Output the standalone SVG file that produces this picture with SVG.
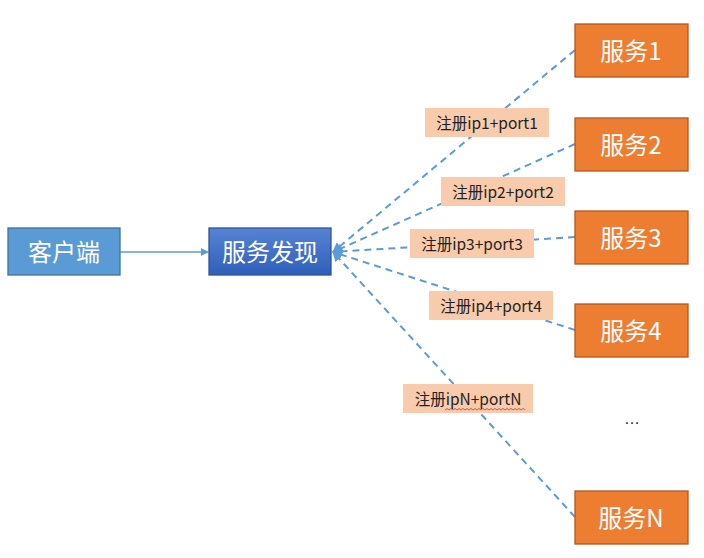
<svg xmlns="http://www.w3.org/2000/svg" width="704" height="558" viewBox="0 0 704 558">
<defs>
<linearGradient id="g1" x1="0" y1="0" x2="0" y2="1">
<stop offset="0" stop-color="#5783D3"/>
<stop offset="1" stop-color="#2F5FBA"/>
</linearGradient>
<marker id="arr" viewBox="0 0 10 10" refX="9" refY="5" markerWidth="5" markerHeight="5" orient="auto" markerUnits="strokeWidth">
<path d="M0,0 L10,5 L0,10 z" fill="#5B9BD5"/>
</marker>
<marker id="arrd" viewBox="0 0 10 10" refX="9" refY="5" markerWidth="5" markerHeight="5" orient="auto" markerUnits="strokeWidth">
<path d="M0,0 L10,5 L0,10 z" fill="#5B9BD5"/>
</marker>
</defs>
<style>
.t{font-family:"Noto Sans CJK SC","Liberation Sans",sans-serif;fill:#fff;font-size:24px;text-anchor:middle;dominant-baseline:central}
.l{font-family:"Noto Sans CJK SC","Liberation Sans",sans-serif;fill:#222;font-size:15.5px;text-anchor:middle;dominant-baseline:central}
.svc{fill:#ED7D31;stroke:#AE5A21;stroke-width:1.3}
.lb{fill:#F8CBAD}
.d{stroke:#5B9BD5;stroke-width:2;stroke-dasharray:7,5;fill:none;marker-end:url(#arrd)}
</style>
<rect width="704" height="558" fill="#fff"/>
<g id="connectors">
<line x1="120" y1="252" x2="208" y2="252" stroke="#5B9BD5" stroke-width="1.6" marker-end="url(#arr)"/>
<line class="d" x1="575" y1="50" x2="333" y2="252"/>
<line class="d" x1="575" y1="144" x2="333" y2="252"/>
<line class="d" x1="575" y1="237" x2="333" y2="252"/>
<line class="d" x1="575" y1="330" x2="333" y2="252"/>
<line class="d" x1="575" y1="517" x2="333" y2="252"/>
</g>
<g id="client"><rect x="8" y="228" width="112" height="47" fill="#5B9BD5" stroke="#41719C" stroke-width="1.3"/><text class="t" x="64" y="250">客户端</text></g>
<g id="discovery"><rect x="209" y="228" width="122" height="47" fill="url(#g1)" stroke="#2F5597" stroke-width="1.3"/><text class="t" x="270" y="250">服务发现</text></g>
<g id="s1"><rect class="svc" x="575" y="24" width="113" height="53"/><text class="t" x="631" y="49">服务1</text></g>
<g id="s2"><rect class="svc" x="575" y="118" width="113" height="53"/><text class="t" x="631" y="143">服务2</text></g>
<g id="s3"><rect class="svc" x="575" y="211" width="113" height="53"/><text class="t" x="631" y="236">服务3</text></g>
<g id="s4"><rect class="svc" x="575" y="304" width="113" height="53"/><text class="t" x="631" y="329">服务4</text></g>
<g id="sN"><rect class="svc" x="575" y="491" width="113" height="53"/><text class="t" x="631" y="516">服务N</text></g>
<g id="lab1"><rect class="lb" x="425" y="108" width="124" height="29"/><text class="l" x="487" y="121.5">注册ip1+port1</text></g>
<g id="lab2"><rect class="lb" x="441" y="177" width="124" height="29"/><text class="l" x="503" y="190.5">注册ip2+port2</text></g>
<g id="lab3"><rect class="lb" x="410" y="229" width="124" height="29"/><text class="l" x="472" y="242.5">注册ip3+port3</text></g>
<g id="lab4"><rect class="lb" x="429" y="291" width="124" height="29"/><text class="l" x="491" y="304.5">注册ip4+port4</text></g>
<g id="labN"><rect class="lb" x="403" y="384" width="130" height="29"/><text class="l" x="468" y="397.5">注册ipN+portN</text>
<path d="M445,410 l2,-1.5 l2,1.5 l2,-1.5 l2,1.5 l2,-1.5 l2,1.5 l2,-1.5 l2,1.5 l2,-1.5 l2,1.5 l2,-1.5 l2,1.5 l2,-1.5 l2,1.5 l2,-1.5 l2,1.5 l2,-1.5 l2,1.5 l2,-1.5 l2,1.5 l2,-1.5 l2,1.5 l2,-1.5 l2,1.5 l2,-1.5 l2,1.5 l2,-1.5 l2,1.5 l2,-1.5 l2,1.5 l2,-1.5 l2,1.5 l2,-1.5 l2,1.5 l2,-1.5 l2,1.5 l2,-1.5 l2,1.5 l2,-1.5 l2,1.5" fill="none" stroke="#E03030" stroke-width="0.8"/></g>
<text x="632" y="424" font-family="Liberation Sans, sans-serif" font-size="16" fill="#222" text-anchor="middle">…</text>
</svg>
